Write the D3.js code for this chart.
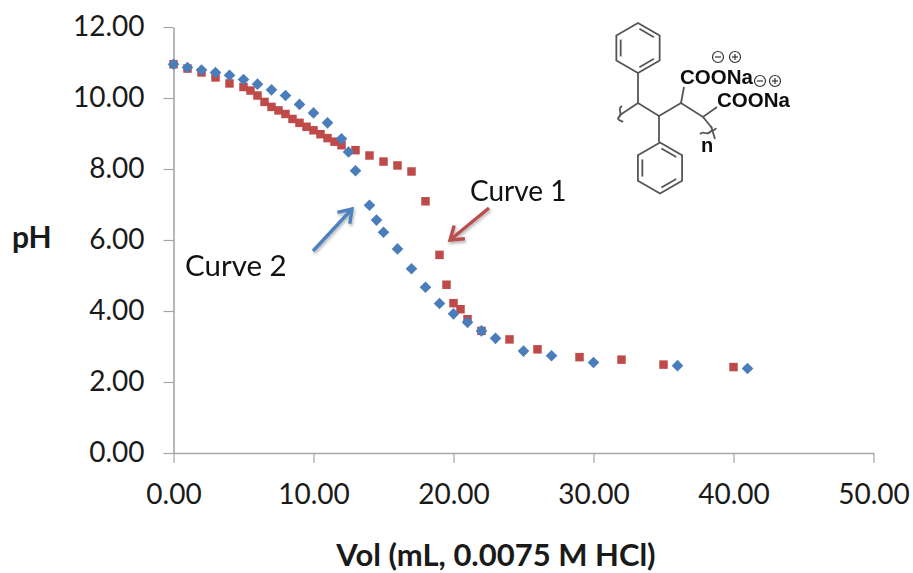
<!DOCTYPE html>
<html>
<head>
<meta charset="utf-8">
<script src="https://cdn.jsdelivr.net/npm/d3@7"></script>
<style>
  html, body { margin: 0; padding: 0; background: #fff; }
  svg { display: block; }
</style>
</head>
<body>
<script>
const width = 913, height = 573;
const margin = {top: 27, right: 40, bottom: 120, left: 173.5};

const xTicks = [0, 10, 20, 30, 40, 50];
const yTicks = [0, 2, 4, 6, 8, 10, 12];

// curve 1 (red squares)
const curve1Vol = [0, 1, 2, 3, 4, 5, 5.5, 6, 6.5, 7, 7.5, 8, 8.5, 9, 9.5, 10, 10.5, 11, 11.5, 12, 13, 14, 15, 16, 17, 18, 19, 19.5, 20, 20.5, 21, 22, 24, 26, 29, 32, 35, 40];
const curve1PH = [10.95, 10.83, 10.72, 10.58, 10.41, 10.31, 10.21, 10.07, 9.89, 9.75, 9.65, 9.55, 9.41, 9.30, 9.19, 9.09, 8.98, 8.87, 8.77, 8.67, 8.53, 8.38, 8.21, 8.10, 7.93, 7.09, 5.58, 4.74, 4.22, 4.05, 3.77, 3.44, 3.20, 2.92, 2.70, 2.63, 2.49, 2.42];

// curve 2 (blue diamonds)
const curve2Vol = [0, 1, 2, 3, 4, 5, 6, 7, 8, 9, 10, 11, 12, 12.5, 13, 14, 14.5, 15, 16, 17, 18, 19, 20, 21, 22, 23, 25, 27, 30, 36, 41];
const curve2PH = [10.95, 10.86, 10.79, 10.72, 10.64, 10.52, 10.39, 10.23, 10.07, 9.82, 9.58, 9.30, 8.85, 8.48, 7.95, 6.98, 6.56, 6.22, 5.75, 5.19, 4.67, 4.21, 3.92, 3.68, 3.44, 3.23, 2.87, 2.74, 2.55, 2.46, 2.38];

const red = "#be4b48", blue = "#4a7ebb", axisGrey = "#a6a6a6";
const uiFont = "Lato, 'Open Sans', sans-serif";

const x = d3.scaleLinear().domain([0, 50]).range([margin.left, 873.5]);
const y = d3.scaleLinear().domain([0, 12]).range([453, margin.top]);

const svg = d3.select("body").append("svg")
    .attr("width", width)
    .attr("height", height)
    .attr("viewBox", [0, 0, width, height]);

const defs = svg.append("defs");
defs.append("filter").attr("id", "soft")
    .attr("x", "-30%").attr("y", "-30%").attr("width", "160%").attr("height", "160%")
  .append("feGaussianBlur").attr("stdDeviation", 0.45);

const shadow = defs.append("filter").attr("id", "shadow")
    .attr("x", "-30%").attr("y", "-30%").attr("width", "160%").attr("height", "160%");
shadow.append("feDropShadow")
    .attr("dx", 1).attr("dy", 2).attr("stdDeviation", 1.6)
    .attr("flood-color", "#000").attr("flood-opacity", 0.3);

// axes
const styleAxis = g => g
    .call(g => g.selectAll(".domain").attr("stroke", axisGrey).attr("stroke-width", 1.6))
    .call(g => g.selectAll(".tick line").attr("stroke", axisGrey).attr("stroke-width", 1.2))
    .call(g => g.selectAll(".tick text")
        .attr("font-family", uiFont)
        .attr("font-size", 28)
        .attr("fill", "#1a1a1a"));

svg.append("g")
    .attr("transform", "translate(0,453)")
    .call(d3.axisBottom(x).tickValues(xTicks).tickFormat(d3.format(".2f")).tickSize(10).tickPadding(21).tickSizeOuter(0))
    .call(styleAxis);

svg.append("g")
    .attr("transform", `translate(${margin.left},0)`)
    .call(d3.axisLeft(y).tickValues(yTicks).tickFormat(d3.format(".2f")).tickSize(10).tickPadding(19).tickSizeOuter(0))
    .call(styleAxis);

// axis titles
svg.append("text")
    .attr("x", 496).attr("y", 566)
    .attr("text-anchor", "middle")
    .attr("font-family", uiFont).attr("font-weight", 700).attr("font-size", 31)
    .attr("fill", "#1a1a1a")
    .text("Vol (mL, 0.0075 M HCl)");

svg.append("text")
    .attr("x", 12).attr("y", 248)
    .attr("font-family", uiFont).attr("font-weight", 700).attr("font-size", 30)
    .attr("fill", "#1a1a1a")
    .text("pH");

// points, red first so blue sits on top
const marks = svg.append("g").attr("filter", "url(#soft)");

marks.append("g").selectAll("path")
    .data(d3.zip(curve1Vol, curve1PH))
    .join("path")
    .attr("d", d3.symbol(d3.symbolSquare, 72))
    .attr("transform", d => `translate(${x(d[0])},${y(d[1])})`)
    .attr("fill", red);

marks.append("g").selectAll("path")
    .data(d3.zip(curve2Vol, curve2PH))
    .join("path")
    .attr("d", "M0,-5.8L5.8,0L0,5.8L-5.8,0Z")
    .attr("transform", d => `translate(${x(d[0])},${y(d[1])})`)
    .attr("fill", blue);

// annotation arrows and labels
const arrow = (x1, y1, x2, y2, color) => {
    const a = Math.atan2(y2 - y1, x2 - x1), s = 15;
    const tip = t => [x2 - s * Math.cos(a + t), y2 - s * Math.sin(a + t)];
    const g = svg.append("g")
        .attr("fill", "none").attr("stroke", color)
        .attr("stroke-width", 3.4).attr("stroke-linejoin", "miter")
        .attr("filter", "url(#shadow)");
    g.append("path").attr("d", d3.line()([[x1, y1], [x2, y2]]));
    g.append("path").attr("d", d3.line()([tip(0.6), [x2, y2], tip(-0.6)]));
};
arrow(313, 251, 352, 209, "#4f81bd");
arrow(489, 208, 450, 240, "#b8504e");

svg.append("text").attr("x", 470).attr("y", 201)
    .attr("font-family", uiFont).attr("font-size", 28).attr("fill", "#111").text("Curve 1");
svg.append("text").attr("x", 185).attr("y", 276)
    .attr("font-family", uiFont).attr("font-size", 29.5).attr("fill", "#111").text("Curve 2");

// structure drawing, top right
const mol = svg.append("g").attr("filter", "url(#soft)");
const bonds = mol.append("g").attr("fill", "none").attr("stroke", "#555").attr("stroke-width", 1.8);
const line = d3.line();
const ring = (cx, cy, r) => {
    const pts = d3.range(6).map(i => {
        const a = -Math.PI / 2 + i * Math.PI / 3;
        return [cx + r * Math.cos(a), cy + r * Math.sin(a)];
    });
    bonds.append("path").attr("d", line(pts) + "Z");
    [0, 2, 4].forEach(i => {
        const p = pts[i], q = pts[(i + 1) % 6], k = 0.8;
        const inner = [p, q].map(v => [cx + (v[0] - cx) * k, cy + (v[1] - cy) * k]);
        const along = t => [inner[0][0] + (inner[1][0] - inner[0][0]) * t, inner[0][1] + (inner[1][1] - inner[0][1]) * t];
        bonds.append("path").attr("d", line([along(0.08), along(0.92)]));
    });
};
ring(638, 48, 25);
ring(660, 168, 25.5);
[
    [[620, 115], [638, 103], [659, 116], [681, 103], [703, 117], [717, 107]],
    [[638, 73], [638, 103]],
    [[659, 116], [659, 142]],
    [[681, 103], [684, 87]],
    [[703, 117], [712, 128]]
].forEach(p => bonds.append("path").attr("d", line(p)));
bonds.append("path").attr("d", "M622,106C616,110 624,113 619,117C616,120 622,121 623,122");
bonds.append("path").attr("d", "M700,134C704,130 706,136 710,132C713,129 715,131 716,128M711,126L715,139");

const chem = mol.append("g")
    .attr("font-family", "'Liberation Sans', Arial, sans-serif")
    .attr("font-weight", 700).attr("fill", "#111");
chem.append("text").attr("x", 680).attr("y", 84).attr("font-size", 20.5).text("COONa");
chem.append("text").attr("x", 717).attr("y", 107).attr("font-size", 20.5).text("COONa");
chem.append("text").attr("x", 701).attr("y", 152).attr("font-size", 20).text("n");

const charges = [
    {cx: 718, cy: 57, sign: "minus"},
    {cx: 735, cy: 57, sign: "plus"},
    {cx: 760, cy: 81, sign: "minus"},
    {cx: 775, cy: 81, sign: "plus"}
];
const ch = mol.append("g").attr("fill", "none").attr("stroke", "#333").attr("stroke-width", 1.2);
charges.forEach(c => {
    ch.append("circle").attr("cx", c.cx).attr("cy", c.cy).attr("r", 5.5);
    ch.append("path").attr("d", line([[c.cx - 3, c.cy], [c.cx + 3, c.cy]]));
    if (c.sign === "plus") ch.append("path").attr("d", line([[c.cx, c.cy - 3], [c.cx, c.cy + 3]]));
});
</script>
</body>
</html>
